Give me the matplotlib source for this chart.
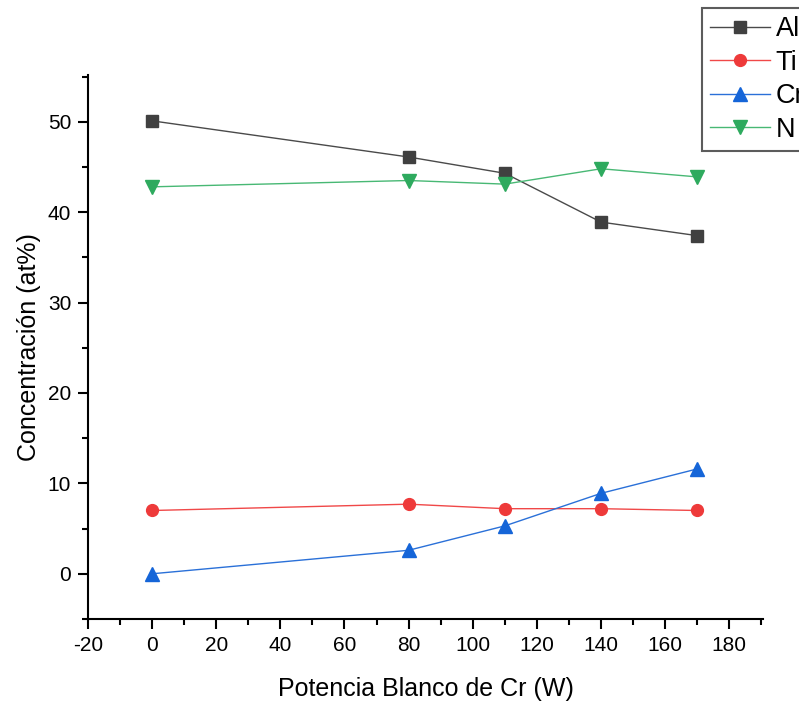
import numpy as np
import matplotlib.pyplot as plt
from matplotlib.ticker import MultipleLocator

plt.rcParams['font.family'] = ['Liberation Sans', 'DejaVu Sans']
plt.rcParams['axes.unicode_minus'] = False

# data
potencia = [0, 80, 110, 140, 170]
al = [50.1, 46.1, 44.3, 38.9, 37.4]
ti = [7.0, 7.7, 7.2, 7.2, 7.0]
cr = [0.0, 2.6, 5.3, 8.9, 11.6]
n = [42.8, 43.5, 43.1, 44.8, 43.9]

fig = plt.figure(figsize=(7.99, 7.05), dpi=100)
ax = fig.add_axes([0.110, 0.122, 0.845, 0.772])

ax.plot(potencia, al, color='#4a4a4a', lw=1, marker='s', ms=8.5, mfc='#404040', mec='#404040', label='Al')
ax.plot(potencia, ti, color='#f04848', lw=1, marker='o', ms=8.5, mfc='#ee3a3a', mec='#ee3a3a', label='Ti')
ax.plot(potencia, cr, color='#2a70d8', lw=1, marker='^', ms=9.5, mfc='#1565d8', mec='#1565d8', label='Cr')
ax.plot(potencia, n, color='#48b874', lw=1, marker='v', ms=9.5, mfc='#2eaa5e', mec='#2eaa5e', label='N')

ax.set_xlim(-20, 190.5)
ax.set_ylim(-5, 55.2)
ax.xaxis.set_major_locator(MultipleLocator(20))
ax.xaxis.set_minor_locator(MultipleLocator(10))
ax.yaxis.set_major_locator(MultipleLocator(10))
ax.yaxis.set_minor_locator(MultipleLocator(5))
ax.spines['top'].set_visible(False)
ax.spines['right'].set_visible(False)
for s in ('left', 'bottom'):
    ax.spines[s].set_linewidth(1.5)
ax.tick_params(which='major', direction='out', length=7, width=1.5, labelsize=15, pad=5)
ax.tick_params(which='minor', direction='out', length=4, width=1.5)

ax.set_xlabel('Potencia Blanco de Cr (W)', fontsize=18, labelpad=16)
ax.set_ylabel('Concentración (at%)', fontsize=18, labelpad=5)

leg = fig.legend(loc='upper left', bbox_to_anchor=(702 / 799, 1 - 8 / 705),
                 fontsize=19.5, frameon=True, fancybox=False, edgecolor='#333333',
                 borderpad=0.3, labelspacing=0.28, handlelength=2.2, handletextpad=0.22,
                 borderaxespad=0)
leg.get_frame().set_linewidth(1.5)

fig.savefig('out.png', dpi=100)
